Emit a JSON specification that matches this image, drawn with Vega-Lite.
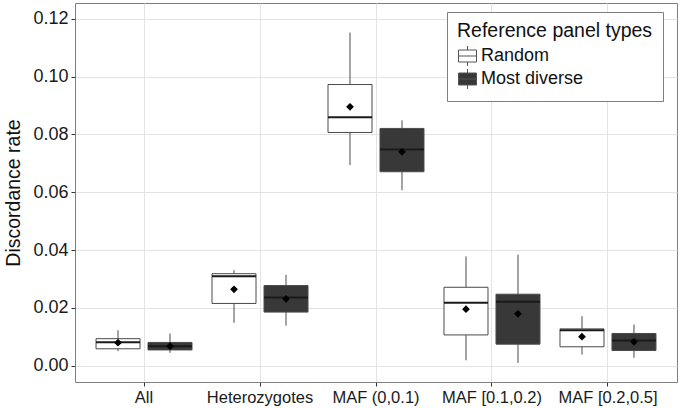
{
  "$schema": "https://vega.github.io/schema/vega-lite/v6.json",
  "width": 602,
  "height": 379,
  "autosize": {"type": "none"},
  "padding": {"left": 75, "top": 3, "right": 3, "bottom": 26},
  "background": "white",
  "data": {
    "values": [
      {"category": "All", "type": "Random", "lower": 0.0050, "q1": 0.0058, "median": 0.0081, "q3": 0.0093, "upper": 0.0122, "mean": 0.0079},
      {"category": "All", "type": "Most diverse", "lower": 0.0044, "q1": 0.0054, "median": 0.0067, "q3": 0.0080, "upper": 0.0111, "mean": 0.0067},
      {"category": "Heterozygotes", "type": "Random", "lower": 0.0148, "q1": 0.0215, "median": 0.0309, "q3": 0.0318, "upper": 0.0330, "mean": 0.0264},
      {"category": "Heterozygotes", "type": "Most diverse", "lower": 0.0138, "q1": 0.0185, "median": 0.0236, "q3": 0.0277, "upper": 0.0314, "mean": 0.0231},
      {"category": "MAF (0,0.1)", "type": "Random", "lower": 0.0694, "q1": 0.0807, "median": 0.0860, "q3": 0.0973, "upper": 0.1153, "mean": 0.0896},
      {"category": "MAF (0,0.1)", "type": "Most diverse", "lower": 0.0607, "q1": 0.0671, "median": 0.0748, "q3": 0.0821, "upper": 0.0849, "mean": 0.0740},
      {"category": "MAF [0.1,0.2)", "type": "Random", "lower": 0.0018, "q1": 0.0106, "median": 0.0217, "q3": 0.0271, "upper": 0.0378, "mean": 0.0195},
      {"category": "MAF [0.1,0.2)", "type": "Most diverse", "lower": 0.0009, "q1": 0.0074, "median": 0.0221, "q3": 0.0247, "upper": 0.0384, "mean": 0.0179},
      {"category": "MAF [0.2,0.5]", "type": "Random", "lower": 0.0038, "q1": 0.0065, "median": 0.0122, "q3": 0.0127, "upper": 0.0171, "mean": 0.0100},
      {"category": "MAF [0.2,0.5]", "type": "Most diverse", "lower": 0.0027, "q1": 0.0052, "median": 0.0087, "q3": 0.0111, "upper": 0.0142, "mean": 0.0082}
    ]
  },
  "encoding": {
    "x": {
      "field": "category",
      "type": "nominal",
      "sort": null,
      "title": null,
      "scale": {
        "domain": ["All", "Heterozygotes", "MAF (0,0.1)", "MAF [0.1,0.2)", "MAF [0.2,0.5]"],
        "paddingInner": 0,
        "paddingOuter": 0.095
      },
      "axis": {
        "grid": true,
        "gridColor": "#e3e3e3",
        "gridWidth": 1,
        "domain": false,
        "ticks": true,
        "tickSize": 4,
        "tickColor": "#333333",
        "labelAngle": 0,
        "labelFontSize": 16.5,
        "labelColor": "#1a1a1a",
        "labelPadding": 3
      }
    },
    "xOffset": {
      "field": "type",
      "type": "nominal",
      "scale": {"domain": ["Random", "Most diverse"], "paddingInner": 0, "paddingOuter": 0.1154}
    }
  },
  "layer": [
    {
      "mark": {"type": "rule", "color": "#4a4a4a", "strokeWidth": 1},
      "encoding": {
        "y": {
          "field": "lower",
          "type": "quantitative",
          "title": "Discordance rate",
          "scale": {"domain": [-0.0057, 0.12553], "nice": false, "zero": false},
          "axis": {
            "values": [0, 0.01, 0.02, 0.03, 0.04, 0.05, 0.06, 0.07, 0.08, 0.09, 0.10, 0.11, 0.12],
            "labelExpr": "round(datum.value*100) % 2 === 0 ? format(datum.value, '.2f') : ''",
            "labelOverlap": false,
            "grid": true,
            "gridColor": {"condition": {"test": "round(datum.value*100) % 2 === 1", "value": "#f3f3f3"}, "value": "#e3e3e3"},
            "tickOpacity": {"condition": {"test": "round(datum.value*100) % 2 === 1", "value": 0}, "value": 1},
            "domain": false,
            "tickSize": 4,
            "tickColor": "#333333",
            "labelFontSize": 18,
            "labelColor": "#1a1a1a",
            "labelPadding": 3,
            "titleFontSize": 19.5,
            "titleFontWeight": "normal",
            "titleColor": "#111111",
            "titlePadding": 9
          }
        },
        "y2": {"field": "upper"}
      }
    },
    {
      "mark": {"type": "bar", "size": 44, "stroke": "#4a4a4a", "strokeWidth": 1, "opacity": 1},
      "encoding": {
        "y": {"field": "q1", "type": "quantitative", "title": "Discordance rate"},
        "y2": {"field": "q3"},
        "fill": {
          "field": "type",
          "type": "nominal",
          "scale": {"domain": ["Random", "Most diverse"], "range": ["#ffffff", "#383838"]},
          "legend": {
            "title": "Reference panel types",
            "orient": "none",
            "legendX": 372,
            "legendY": 9,
            "symbolType": "M-0.9,-0.6H0.9V0.6H-0.9Z M-0.9,0H0.9 M0,-1V-0.6 M0,0.6V1",
            "symbolSize": 400,
            "symbolStrokeColor": "#555555",
            "symbolStrokeWidth": 1,
            "symbolOpacity": 1,
            "fillColor": "white",
            "strokeColor": "#7f7f7f",
            "padding": 10,
            "titleFontSize": 19.5,
            "titleFontWeight": "normal",
            "titleColor": "#111111",
            "titleLimit": 400,
            "labelFontSize": 18,
            "labelColor": "#111111",
            "labelLimit": 300,
            "rowPadding": -4,
            "titlePadding": 4,
            "labelOffset": 3
          }
        }
      }
    },
    {
      "mark": {"type": "tick", "size": 44, "thickness": 2, "color": "#1a1a1a", "opacity": 1},
      "encoding": {
        "y": {"field": "median", "type": "quantitative", "title": "Discordance rate"}
      }
    },
    {
      "mark": {"type": "point", "shape": "diamond", "filled": true, "size": 60, "color": "#000000", "opacity": 1},
      "encoding": {
        "y": {"field": "mean", "type": "quantitative", "title": "Discordance rate"}
      }
    }
  ],
  "config": {
    "font": "Liberation Sans",
    "view": {"stroke": "#7f7f7f", "strokeWidth": 1}
  }
}
